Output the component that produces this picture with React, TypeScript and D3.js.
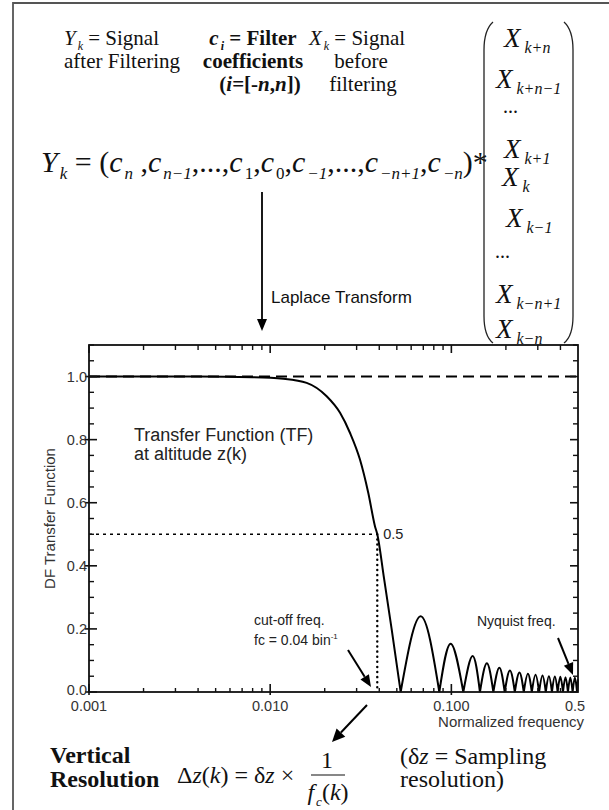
import React from "react";
import * as d3 from "d3";

const W = 609;
const H = 810;

// ---- axis data ----
const xDomain = [0.001, 0.5];
const yDomain = [0, 1.1];
const xTickValues = [0.001, 0.01, 0.1, 0.5];
const xTickLabels = ["0.001", "0.010", "0.100", "0.5"];
const yTickValues = [0, 0.2, 0.4, 0.6, 0.8, 1.0];
const yTickLabels = ["0.0", "0.2", "0.4", "0.6", "0.8", "1.0"];

// ---- transfer function: main lobe ----
const mainLobeFreq = [0.001, 0.004, 0.008, 0.0118, 0.0159, 0.0205, 0.0243, 0.0276, 0.0313, 0.0348, 0.0379, 0.039, 0.0425, 0.0468, 0.0525];
const mainLobeValue = [1.0, 1.0, 0.998, 0.993, 0.98, 0.9375, 0.885, 0.821, 0.737, 0.631, 0.525, 0.5, 0.36, 0.2, 0];

// ---- side lobes: zeros, peak positions and peak values ----
const sidelobeZeros = [0.0525, 0.0858, 0.1164, 0.1438, 0.1705, 0.197, 0.224, 0.251, 0.278, 0.305, 0.332, 0.359, 0.386, 0.413, 0.44, 0.467, 0.494];
const sidelobePeakFreq = [0.0677, 0.0991, 0.131, 0.157, 0.184, 0.2105, 0.2375, 0.2645, 0.2915, 0.3185, 0.3455, 0.3725, 0.3995, 0.4265, 0.4535, 0.4805];
const sidelobePeakValue = [0.24, 0.153, 0.114, 0.091, 0.077, 0.068, 0.062, 0.058, 0.055, 0.052, 0.05, 0.049, 0.048, 0.047, 0.046, 0.046];
const nyquistFreq = 0.5;
const nyquistValue = 0.04;

const passbandLevel = 1.0;
const cutoffFreq = 0.039;
const cutoffLevel = 0.5;

const SANS = "'Liberation Sans', Arial, sans-serif";
const SERIF = "'Liberation Serif', 'Times New Roman', serif";

const plot = { left: 89, right: 578, top: 345, bottom: 692 };

function Arrow({ x1, y1, x2, y2, len = 12, half = 5, sw = 2 }) {
  const a = Math.atan2(y2 - y1, x2 - x1);
  const bx = x2 - len * Math.cos(a);
  const by = y2 - len * Math.sin(a);
  const px = -Math.sin(a) * half;
  const py = Math.cos(a) * half;
  return (
    <g>
      <line x1={x1} y1={y1} x2={bx} y2={by} stroke="#000" strokeWidth={sw} />
      <polygon points={`${x2},${y2} ${bx + px},${by + py} ${bx - px},${by - py}`} fill="#000" />
    </g>
  );
}

// Rich text: segments [text, flags] where flags may contain "i" (italic), "b" (bold), "s" (subscript)
function Rich({ x, y, size, subSize, segs, anchor = "start", weight = "normal", family = SERIF, subGap = 2 }) {
  const d = Math.round(size * 0.24);
  let prevSub = false;
  return (
    <text x={x} y={y} fontSize={size} fontFamily={family} fontWeight={weight} textAnchor={anchor} fill="#111">
      {segs.map(([t, f = ""], i) => {
        const sub = f.includes("s");
        let dy = 0;
        if (sub && !prevSub) dy = d;
        if (!sub && prevSub) dy = -d;
        prevSub = sub;
        return (
          <tspan
            key={i}
            dy={dy || undefined}
            dx={sub ? subGap : undefined}
            fontSize={sub ? subSize : size}
            fontStyle={f.includes("i") ? "italic" : "normal"}
            fontWeight={f.includes("b") ? "bold" : weight}
          >
            {t}
          </tspan>
        );
      })}
    </text>
  );
}

export default function App() {
  const x = d3.scaleLog().domain(xDomain).range([plot.left, plot.right]);
  const y = d3.scaleLinear().domain(yDomain).range([plot.bottom, plot.top]);

  const xMinor = x.ticks().filter((t) => !xTickValues.some((m) => Math.abs(m - t) < 1e-9));
  const yMinor = d3.range(0, 1.1001, 0.05).filter((t) => !yTickValues.some((m) => Math.abs(m - t) < 1e-9));

  const mainLine = d3
    .line()
    .x((d) => x(d[0]))
    .y((d) => y(d[1]))
    .curve(d3.curveMonotoneX);
  const lobeLine = d3
    .line()
    .x((d) => x(d[0]))
    .y((d) => y(d[1]))
    .curve(d3.curveNatural);

  let tfPath = mainLine(mainLobeFreq.map((f, i) => [f, mainLobeValue[i]]));
  for (let i = 0; i < sidelobePeakFreq.length; i++) {
    tfPath += lobeLine([
      [sidelobeZeros[i], 0],
      [sidelobePeakFreq[i], sidelobePeakValue[i]],
      [sidelobeZeros[i + 1], 0],
    ]);
  }
  tfPath += lobeLine([
    [sidelobeZeros[sidelobeZeros.length - 1], 0],
    [nyquistFreq, nyquistValue],
  ]);

  const eqSize = 30;
  const eqSub = 17;
  const mSize = 27;
  const mSub = 16;

  const matrixRows = [
    { sub: "k+n", x: 504, y: 47 },
    { sub: "k+n\u22121", x: 496, y: 88 },
    { dots: true, x: 503, y: 113 },
    { sub: "k+1", x: 504, y: 158 },
    { sub: "k", x: 502, y: 186 },
    { sub: "k\u22121", x: 506, y: 227 },
    { dots: true, x: 495, y: 258 },
    { sub: "k\u2212n+1", x: 496, y: 303 },
    { sub: "k\u2212n", x: 496, y: 338 },
  ];

  return (
    <svg width={W} height={H} style={{ display: "block", position: "absolute", left: 0, top: 0, background: "#fff" }}>
      <rect x={0} y={0} width={W} height={H} fill="#fff" />
      {/* outer border */}
      <path d={`M13,${H + 5} L13,3 L${W + 5},3`} fill="none" stroke="#555" strokeWidth={1.8} />

      {/* top definitions */}
      <Rich x={64} y={45} size={21} subSize={12} segs={[["Y", "i"], ["k", "is"], [" = Signal"]]} />
      <Rich x={64} y={68} size={21} subSize={12} segs={[["after Filtering"]]} />

      <Rich x={253} y={45} size={21} subSize={12} anchor="middle" weight="bold" segs={[["c", "ib"], ["i", "ibs"], [" = Filter", "b"]]} />
      <Rich x={253} y={68} size={21} subSize={12} anchor="middle" weight="bold" segs={[["coefficients", "b"]]} />
      <Rich
        x={260}
        y={91}
        size={21}
        subSize={12}
        anchor="middle"
        weight="bold"
        segs={[["(", "b"], ["i", "ib"], ["=[-", "b"], ["n", "ib"], [",", "b"], ["n", "ib"], ["])", "b"]]}
      />

      <Rich x={357} y={45} size={21} subSize={12} anchor="middle" segs={[["X", "i"], ["k", "is"], [" = Signal"]]} />
      <Rich x={361} y={68} size={21} subSize={12} anchor="middle" segs={[["before"]]} />
      <Rich x={363} y={91} size={21} subSize={12} anchor="middle" segs={[["filtering"]]} />

      {/* main equation */}
      <Rich
        x={41}
        y={172}
        size={eqSize}
        subSize={eqSub}
        segs={[
          ["Y", "i"], ["k", "is"],
          [" = ("],
          ["c", "i"], ["n", "is"],
          [" ,"],
          ["c", "i"], ["n\u22121", "is"],
          [",...,"],
          ["c", "i"], ["1", "s"],
          [","],
          ["c", "i"], ["0", "s"],
          [","],
          ["c", "i"], ["\u22121", "is"],
          [",...,"],
          ["c", "i"], ["\u2212n+1", "is"],
          [","],
          ["c", "i"], ["\u2212n", "is"],
          [")*"],
        ]}
      />

      {/* column vector */}
      <path d="M493,22 Q484,30 484,50 L484,316 Q484,336 493,343" fill="none" stroke="#222" strokeWidth={1.3} />
      <path d="M564,22 Q573,30 573,50 L573,316 Q573,336 564,343" fill="none" stroke="#222" strokeWidth={1.3} />
      {matrixRows.map((r, i) =>
        r.dots ? (
          <text key={i} x={r.x} y={r.y} fontSize={20} fontFamily={SERIF} fill="#111">...</text>
        ) : (
          <Rich key={i} x={r.x} y={r.y} size={mSize} subSize={mSub} subGap={4} segs={[["X", "i"], [r.sub, "is"]]} />
        )
      )}

      {/* Laplace arrow */}
      <Arrow x1={262} y1={192} x2={262} y2={331} len={12} half={5} sw={1.8} />
      <text x={271} y={303} fontFamily={SANS} fontSize={17} fill="#111">Laplace Transform</text>

      {/* plot */}
      <g>
        {/* reference lines */}
        <line x1={plot.left} x2={plot.right} y1={y(passbandLevel)} y2={y(passbandLevel)} stroke="#000" strokeWidth={2} strokeDasharray="11,6" />
        <line x1={plot.left} x2={x(cutoffFreq)} y1={y(cutoffLevel)} y2={y(cutoffLevel)} stroke="#000" strokeWidth={1.5} strokeDasharray="3,4" />
        <line x1={x(cutoffFreq)} x2={x(cutoffFreq)} y1={y(cutoffLevel)} y2={y(0)} stroke="#000" strokeWidth={2.4} strokeDasharray="0.1,5" strokeLinecap="round" />

        {/* transfer function */}
        <path d={tfPath} fill="none" stroke="#000" strokeWidth={2} strokeLinejoin="round" />

        {/* frame */}
        <rect x={plot.left} y={plot.top} width={plot.right - plot.left} height={plot.bottom - plot.top} fill="none" stroke="#111" strokeWidth={1.8} />

        {/* y ticks */}
        {yTickValues.map((v) => (
          <g key={"ym" + v}>
            <line x1={plot.left - 4} x2={plot.left + 8} y1={y(v)} y2={y(v)} stroke="#111" strokeWidth={1.6} />
            <line x1={plot.right - 8} x2={plot.right} y1={y(v)} y2={y(v)} stroke="#111" strokeWidth={1.6} />
          </g>
        ))}
        {yMinor.map((v) => (
          <g key={"yn" + v}>
            <line x1={plot.left} x2={plot.left + 5} y1={y(v)} y2={y(v)} stroke="#111" strokeWidth={1.4} />
            <line x1={plot.right - 5} x2={plot.right} y1={y(v)} y2={y(v)} stroke="#111" strokeWidth={1.4} />
          </g>
        ))}
        {/* x ticks */}
        {xTickValues.slice(0, 3).map((v) => (
          <g key={"xm" + v}>
            <line x1={x(v)} x2={x(v)} y1={plot.bottom + 3} y2={plot.bottom - 8} stroke="#111" strokeWidth={1.6} />
            <line x1={x(v)} x2={x(v)} y1={plot.top} y2={plot.top + 8} stroke="#111" strokeWidth={1.6} />
          </g>
        ))}
        {xMinor.map((v) => (
          <g key={"xn" + v}>
            <line x1={x(v)} x2={x(v)} y1={plot.bottom} y2={plot.bottom - 4} stroke="#111" strokeWidth={1.4} />
            <line x1={x(v)} x2={x(v)} y1={plot.top} y2={plot.top + 5} stroke="#111" strokeWidth={1.4} />
          </g>
        ))}

        {/* tick labels */}
        {yTickValues.map((v, i) => (
          <text key={"yl" + v} x={plot.left - 2} y={y(v) + (i === 0 ? 3 : 5)} textAnchor="end" fontFamily={SANS} fontSize={14.5} fill="#333">
            {yTickLabels[i]}
          </text>
        ))}
        {xTickValues.map((v, i) => (
          <text key={"xl" + v} x={x(v) - (i === 3 ? 3 : 0)} y={711} textAnchor="middle" fontFamily={SANS} fontSize={14.5} fill="#333">
            {xTickLabels[i]}
          </text>
        ))}
        <text x={584} y={727} textAnchor="end" fontFamily={SANS} fontSize={15} fill="#333">Normalized frequency</text>
        <text transform={`translate(55,${(plot.top + plot.bottom) / 2}) rotate(-90)`} textAnchor="middle" fontFamily={SANS} fontSize={15} fill="#333">
          DF Transfer Function
        </text>

        {/* annotations */}
        <text x={134} y={441} fontFamily={SANS} fontSize={18} fill="#222">Transfer Function (TF)</text>
        <text x={134} y={460} fontFamily={SANS} fontSize={18} fill="#222">at altitude z(k)</text>
        <text x={x(cutoffFreq) + 6} y={y(cutoffLevel) + 5} fontFamily={SANS} fontSize={14.5} fill="#222">0.5</text>
        <text x={254} y={625} fontFamily={SANS} fontSize={14} fill="#222">cut-off freq.</text>
        <text x={254} y={645} fontFamily={SANS} fontSize={14} fill="#222">
          fc = 0.04 bin<tspan fontSize={8} dy={-6}>-1</tspan>
        </text>
        <text x={477} y={626} fontFamily={SANS} fontSize={14} fill="#222">Nyquist freq.</text>
        <Arrow x1={348} y1={650} x2={371} y2={687} len={12} half={5} sw={2} />
        <Arrow x1={558} y1={638} x2={573} y2={675} len={12} half={5} sw={2} />
      </g>

      {/* lower arrow to vertical resolution */}
      <Arrow x1={367} y1={705} x2={332} y2={742} len={13} half={6} sw={2} />

      {/* bottom formula */}
      <text x={50} y={763} fontFamily={SERIF} fontSize={24} fontWeight="bold" fill="#111">Vertical</text>
      <text x={50} y={787} fontFamily={SERIF} fontSize={24} fontWeight="bold" fill="#111">Resolution</text>
      <Rich x={177} y={783} size={24} subSize={14} segs={[["Δ"], ["z", "i"], ["("], ["k", "i"], [") = δ"], ["z", "i"], [" ×"]]} />
      <text x={327} y={768} textAnchor="middle" fontFamily={SERIF} fontSize={24} fill="#111">1</text>
      <line x1={311} x2={345} y1={775} y2={775} stroke="#111" strokeWidth={1.2} />
      <Rich x={328} y={800} size={24} subSize={13} anchor="middle" segs={[["f", "i"], ["c", "is"], ["("], ["k", "i"], [")"]]} />
      <Rich x={400} y={764} size={24} subSize={14} segs={[["(δ"], ["z", "i"], [" = Sampling"]]} />
      <text x={400} y={787} fontFamily={SERIF} fontSize={24} fill="#111">resolution)</text>
    </svg>
  );
}
